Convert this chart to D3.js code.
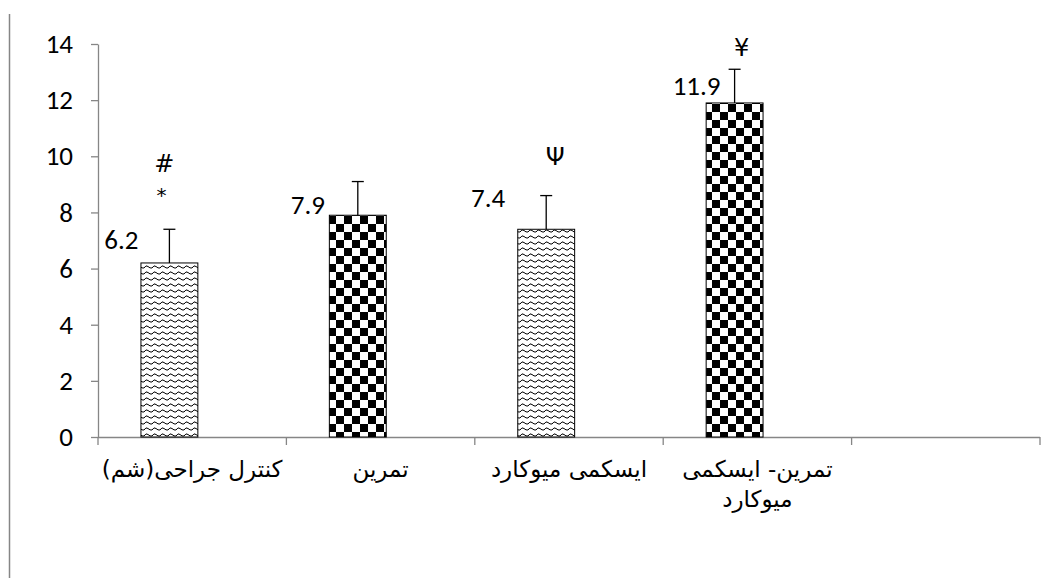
<!DOCTYPE html>
<html><head><meta charset="utf-8">
<script src="https://cdn.jsdelivr.net/npm/d3@7"></script>
<style>body{margin:0;background:#fff}svg{display:block}</style>
</head><body>
<svg id="c" width="1049" height="578"></svg>
<script>
const categories = ["کنترل جراحی(شم)", "تمرین", "ایسکمی میوکارد", "تمرین- ایسکمی میوکارد", ""];
const values = [6.2, 7.9, 7.4, 11.9];
const errors = [1.2, 1.2, 1.2, 1.2];
const patterns = ["wave", "checker", "wave", "checker"];
const annotations = [["#", "*"], [], ["Ψ"], ["¥"]];
const yTicks = [0, 2, 4, 6, 8, 10, 12, 14];
// layout-only offsets for value labels (px), matching manual placement
const labelDx = [-48, -50, -58, -38];
const labelDy = [-23, -11, -32, -17];

const svg = d3.select("#c");
const m = {left: 98, right: 1040, top: 44, bottom: 437};
const x = d3.scaleBand().domain(d3.range(categories.length)).range([m.left, m.right]).paddingInner(0).paddingOuter(0);
const y = d3.scaleLinear().domain([0, 14]).range([m.bottom, m.top]);
const axisColor = "#868686";
const numFont = "Carlito, Lato, 'Open Sans', sans-serif";
const numSize = 27;

const defs = svg.append("defs");
const pc = defs.append("pattern").attr("id","checker").attr("patternUnits","userSpaceOnUse")
  .attr("width",16).attr("height",16);
pc.append("rect").attr("width",16).attr("height",16).attr("fill","#fff");
pc.append("rect").attr("width",8).attr("height",8).attr("fill","#000");
pc.append("rect").attr("x",8).attr("y",8).attr("width",8).attr("height",8).attr("fill","#000");
const pw = defs.append("pattern").attr("id","wave").attr("patternUnits","userSpaceOnUse")
  .attr("width",8).attr("height",6);
pw.append("rect").attr("width",8).attr("height",6).attr("fill","#fff");
pw.append("path").attr("d","M0,4 Q2,0.5 4,2.5 Q6,4.5 8,4").attr("fill","none").attr("stroke","#000").attr("stroke-width",1);

// left border line
svg.append("line").attr("x1",9.5).attr("x2",9.5).attr("y1",14).attr("y2",578).attr("stroke",axisColor).attr("stroke-width",1.5);

// y axis
const ya = svg.append("g").attr("transform",`translate(${m.left},0)`)
  .call(d3.axisLeft(y).tickValues(yTicks).tickSize(7).tickPadding(18).tickSizeOuter(0));
ya.attr("font-size", null).attr("font-family", null);
ya.select(".domain").attr("stroke",axisColor).attr("stroke-width",1.3);
ya.selectAll(".tick line").attr("stroke",axisColor).attr("stroke-width",1.3);
ya.selectAll("text").style("font-family",numFont).style("font-size",numSize+"px").attr("fill","#000");

// x axis line and ticks
const xa = svg.append("g");
xa.append("line").attr("x1",m.left).attr("x2",m.right).attr("y1",y(0)+0.5).attr("y2",y(0)+0.5).attr("stroke",axisColor).attr("stroke-width",1.3);
const edges = d3.range(categories.length).map(i => x(i)).concat([m.right]);
xa.selectAll("line.t").data(edges).join("line").attr("class","t")
  .attr("x1",d=>d).attr("x2",d=>d).attr("y1",y(0)).attr("y2",y(0)+8).attr("stroke",axisColor).attr("stroke-width",1.3);

// category labels
const bw = x.bandwidth();
categories.forEach((c,i) => {
  if (!c) return;
  const lines = i === 3 ? ["تمرین- ایسکمی", "میوکارد"] : [c];
  lines.forEach((ln,j) => {
    svg.append("text").attr("x", x(i)+bw/2).attr("y", 477 + j*30)
      .attr("text-anchor","middle").attr("direction","rtl").attr("unicode-bidi","plaintext")
      .style("font-family","'DejaVu Sans', sans-serif").style("font-size","23px").attr("fill","#000").text(ln);
  });
});

// bars
const barX = i => x(i) + bw*0.228;
const barW = bw*0.302;
svg.selectAll("rect.bar").data(values).join("rect").attr("class","bar")
  .attr("x",(d,i)=>barX(i)).attr("width",barW)
  .attr("y",d=>y(d)).attr("height",d=>y(0)-y(d))
  .attr("fill",(d,i)=>`url(#${patterns[i]})`).attr("stroke","#000").attr("stroke-width",1);

// error bars and value labels
values.forEach((v,i) => {
  const cx = barX(i)+barW/2;
  svg.append("line").attr("x1",cx).attr("x2",cx).attr("y1",y(v)).attr("y2",y(v+errors[i])).attr("stroke","#000").attr("stroke-width",1.3);
  svg.append("line").attr("x1",cx-6).attr("x2",cx+6).attr("y1",y(v+errors[i])).attr("y2",y(v+errors[i])).attr("stroke","#000").attr("stroke-width",1.3);
  svg.append("text").attr("x",cx+labelDx[i]).attr("y",y(v)+labelDy[i]).attr("dy","0.35em")
    .attr("text-anchor","middle").style("font-family",numFont).style("font-size",numSize+"px").attr("fill","#000").text(v.toFixed(1));
});

// annotations
const annPos = [[[-5, 164],[-8, 195]], [], [[9, 157]], [[7, 48]]];
annotations.forEach((arr,i) => {
  const cx = barX(i)+barW/2;
  arr.forEach((s,j) => {
    svg.append("text").attr("x",cx+annPos[i][j][0]).attr("y",annPos[i][j][1]).attr("dy","0.35em")
      .attr("text-anchor","middle").style("font-family","'DejaVu Sans', sans-serif").style("font-size",(s==="*"?20:24)+"px").attr("fill","#000").text(s);
  });
});
</script>
</body></html>
